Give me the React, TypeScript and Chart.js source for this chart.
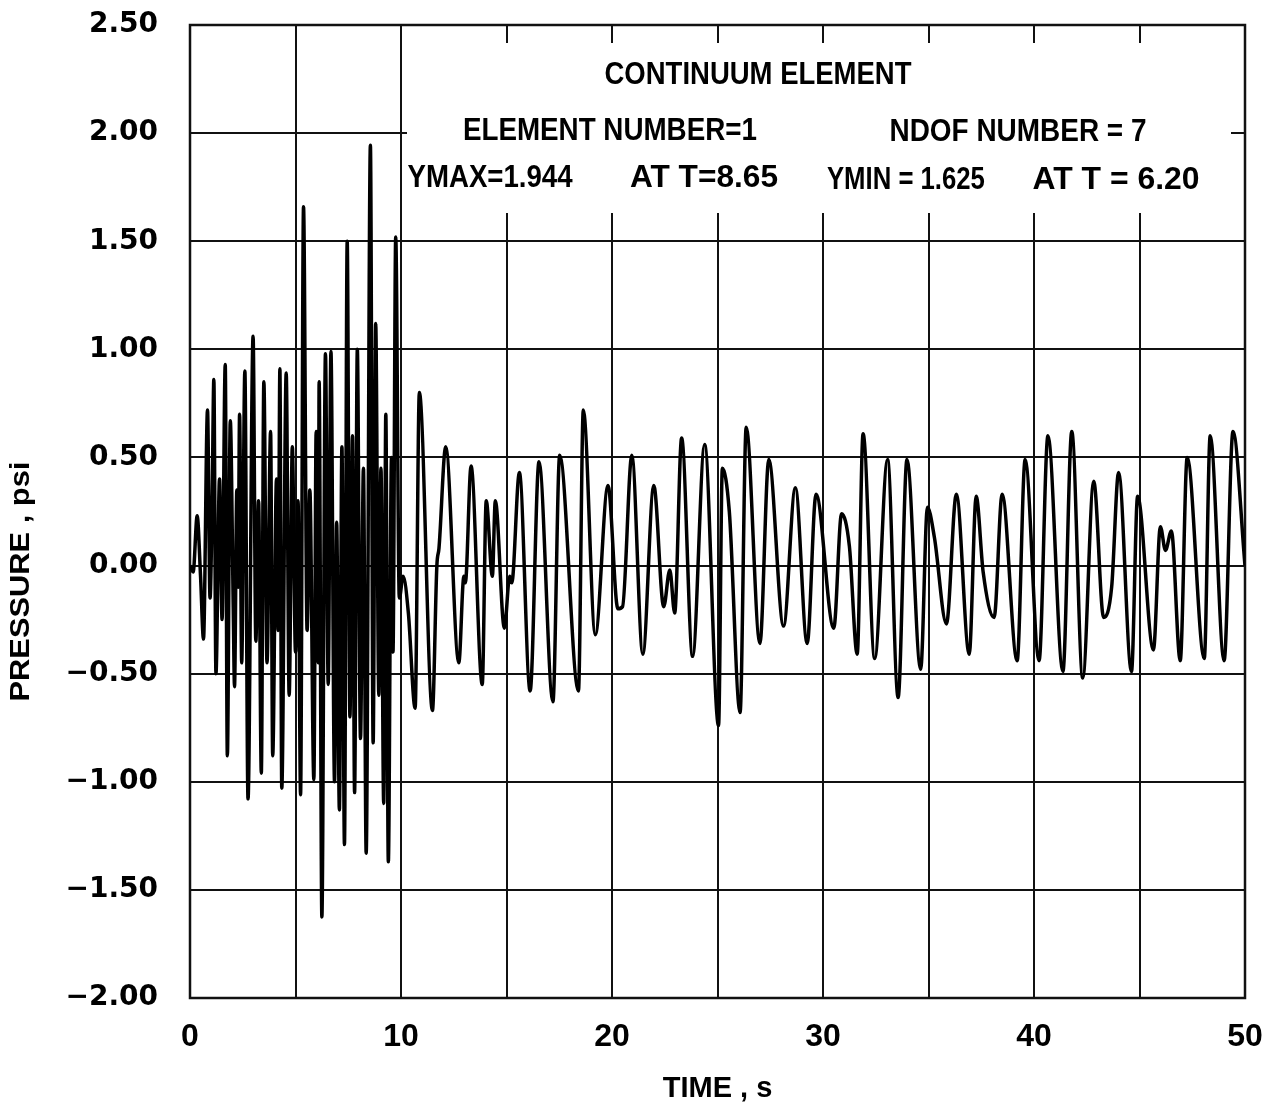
import React, { useEffect, useRef } from 'react';
import { Chart, registerables } from 'chart.js';

Chart.register(...registerables);

// ---- data (time in s, pressure in psi) ----
const timeS: number[] = [
  0.00, 0.15, 0.34, 0.50, 0.64, 0.83, 0.95, 1.05, 1.13, 1.23,
  1.40, 1.52, 1.67, 1.77, 1.91, 2.05, 2.11, 2.22, 2.28, 2.35,
  2.45, 2.60, 2.75, 2.99, 3.12, 3.25, 3.38, 3.50, 3.65, 3.82,
  3.92, 4.10, 4.18, 4.26, 4.35, 4.56, 4.70, 4.85, 5.00, 5.12,
  5.24, 5.38, 5.55, 5.68, 5.87, 5.98, 6.08, 6.12, 6.25, 6.42,
  6.55, 6.68, 6.85, 6.95, 7.08, 7.20, 7.32, 7.45, 7.58, 7.70,
  7.80, 7.93, 8.08, 8.22, 8.35, 8.55, 8.68, 8.80, 8.95, 9.05,
  9.18, 9.28, 9.40, 9.55, 9.62, 9.75, 9.92, 10.10, 10.35, 10.67,
  10.87, 11.49, 11.70, 11.80, 12.12, 12.74, 12.98, 13.05, 13.32, 13.85,
  14.04, 14.33, 14.47, 14.90, 15.15, 15.25, 15.61, 16.12, 16.54, 17.20,
  17.52, 18.41, 18.64, 19.21, 19.81, 20.28, 20.50, 20.94, 21.46, 21.98,
  22.45, 22.74, 22.97, 23.30, 23.82, 24.39, 25.05, 25.23, 25.56, 26.07,
  26.36, 27.01, 27.43, 28.13, 28.69, 29.25, 29.67, 30.51, 30.88, 31.25,
  31.62, 31.90, 32.45, 33.06, 33.56, 33.98, 34.63, 34.95, 35.28, 35.85,
  36.32, 36.93, 37.26, 37.59, 38.11, 38.49, 39.20, 39.58, 40.24, 40.66,
  41.37, 41.79, 42.31, 42.83, 43.30, 43.68, 44.01, 44.62, 44.91, 45.66,
  45.99, 46.23, 46.51, 46.93, 47.26, 48.07, 48.35, 49.01, 49.43, 50.00,
];

const pressurePsi: number[] = [
  0.00, -0.03, 0.23, -0.05, -0.34, 0.72, -0.15, 0.30, 0.86, -0.50,
  0.40, -0.25, 0.93, -0.88, 0.67, -0.20, -0.56, 0.35, -0.10, 0.70,
  -0.45, 0.90, -1.08, 1.06, -0.35, 0.30, -0.96, 0.85, -0.45, 0.62,
  -0.88, 0.40, -0.30, 0.91, -1.03, 0.89, -0.60, 0.55, -0.40, 0.30,
  -1.06, 1.66, -0.30, 0.35, -0.99, 0.62, -0.45, 0.85, -1.625, 0.98,
  -0.55, 0.99, -1.00, 0.20, -1.13, 0.55, -1.29, 1.50, -0.70, 0.60,
  -1.05, 1.00, -0.80, 0.45, -1.33, 1.944, -0.82, 1.12, -0.60, 0.45,
  -1.10, 0.70, -1.37, 0.50, -0.40, 1.52, -0.15, -0.05, -0.22, -0.66,
  0.80, -0.67, 0.00, 0.08, 0.55, -0.45, -0.05, -0.08, 0.46, -0.55,
  0.30, -0.05, 0.30, -0.29, -0.05, -0.08, 0.43, -0.58, 0.48, -0.63,
  0.51, -0.58, 0.72, -0.32, 0.37, -0.20, -0.19, 0.51, -0.41, 0.37,
  -0.19, -0.02, -0.22, 0.59, -0.42, 0.56, -0.74, 0.45, 0.25, -0.68,
  0.64, -0.36, 0.49, -0.28, 0.36, -0.36, 0.33, -0.29, 0.24, 0.09,
  -0.41, 0.61, -0.43, 0.49, -0.61, 0.49, -0.48, 0.27, 0.13, -0.27,
  0.33, -0.41, 0.32, -0.03, -0.24, 0.33, -0.44, 0.49, -0.44, 0.60,
  -0.49, 0.62, -0.52, 0.39, -0.24, -0.10, 0.43, -0.49, 0.32, -0.39,
  0.18, 0.07, 0.16, -0.44, 0.50, -0.43, 0.60, -0.44, 0.62, 0.00,
];

const xGridValues: number[] = [5, 10, 15, 20, 25, 30, 35, 40, 45];
const yGridValues: number[] = [-1.5, -1.0, -0.5, 0.0, 0.5, 1.0, 1.5, 2.0];
const xLabelStep = 10;

const headerTitle = 'CONTINUUM ELEMENT';
const headerLines: string[] = [
  'ELEMENT NUMBER=1',
  'NDOF NUMBER = 7',
  'YMAX=1.944',
  'AT T=8.65',
  'YMIN = 1.625',
  'AT T = 6.20',
];
const yAxisTitle = 'PRESSURE , psi';
const xAxisTitle = 'TIME , s';

// ---- layout / style (kept separate from data) ----
const NARROW = "'Liberation Sans Narrow', 'Liberation Sans', Arial, sans-serif";
const WIDE = "'DejaVu Sans', 'Liberation Sans', sans-serif";
// header text anchors in data coordinates: [time centre, baseline value], plus target width in px
const titleAnchor: [number, number] = [26.92, 2.227];
const titleWidthPx = 307;
const headerAnchors: [number, number][] = [
  [19.9, 1.969],
  [39.24, 1.964],
  [14.22, 1.751],
  [24.36, 1.751],
  [33.93, 1.742],
  [43.89, 1.742],
];
const headerWidthsPx: number[] = [294, 257, 165, 148, 158, 167];
const yTitleLengthPx = 240;
const OPEN_FROM_T = 10; // header box starts right of this time
const OPEN_BELOW_V = 1.63; // header box bottom

function fitText(ctx: CanvasRenderingContext2D, text: string, cx: number, by: number, width: number) {
  const w = ctx.measureText(text).width || 1;
  ctx.save();
  ctx.translate(cx, by);
  ctx.scale(width / w, 1);
  ctx.fillText(text, 0, 0);
  ctx.restore();
}

const framePlugin = {
  id: 'frameGrid',
  beforeDatasetsDraw(chart: any) {
    const { ctx, chartArea: a, scales } = chart;
    const x = scales.x;
    const y = scales.y;
    ctx.save();
    ctx.strokeStyle = '#111';
    ctx.lineWidth = 2;
    ctx.lineCap = 'butt';
    const boxLeft = x.getPixelForValue(OPEN_FROM_T) + 6;
    const boxBottom = y.getPixelForValue(OPEN_BELOW_V);
    for (const v of yGridValues) {
      const py = Math.round(y.getPixelForValue(v));
      ctx.beginPath();
      if (py < boxBottom) {
        ctx.moveTo(a.left, py);
        ctx.lineTo(boxLeft, py);
        ctx.moveTo(a.right - 14, py);
        ctx.lineTo(a.right, py);
      } else {
        ctx.moveTo(a.left, py);
        ctx.lineTo(a.right, py);
      }
      ctx.stroke();
    }
    for (const t of xGridValues) {
      const px = Math.round(x.getPixelForValue(t));
      ctx.beginPath();
      if (t <= OPEN_FROM_T) {
        ctx.moveTo(px, a.top);
        ctx.lineTo(px, a.bottom);
      } else {
        ctx.moveTo(px, a.top);
        ctx.lineTo(px, a.top + 18);
        ctx.moveTo(px, boxBottom);
        ctx.lineTo(px, a.bottom);
      }
      ctx.stroke();
    }
    ctx.lineWidth = 2.5;
    ctx.strokeRect(a.left, a.top, a.right - a.left, a.bottom - a.top);
    ctx.restore();
  },
  afterDatasetsDraw(chart: any) {
    const { ctx, scales } = chart;
    const x = scales.x;
    const y = scales.y;
    ctx.save();
    ctx.fillStyle = '#000';
    ctx.textAlign = 'center';
    ctx.textBaseline = 'alphabetic';
    ctx.font = `bold 31px ${NARROW}`;
    fitText(ctx, headerTitle, x.getPixelForValue(titleAnchor[0]), y.getPixelForValue(titleAnchor[1]), titleWidthPx);
    headerLines.forEach((txt, i) => {
      const [t, v] = headerAnchors[i];
      ctx.font = `bold ${i >= 2 ? 32 : 31}px ${NARROW}`;
      fitText(ctx, txt, x.getPixelForValue(t), y.getPixelForValue(v), headerWidthsPx[i]);
    });
    ctx.font = `bold 27px ${NARROW}`;
    ctx.translate(22, y.getPixelForValue(0.0) + 16);
    ctx.rotate(-Math.PI / 2);
    ctx.textBaseline = 'middle';
    fitText(ctx, yAxisTitle, 0, 0, yTitleLengthPx);
    ctx.restore();
  },
};

export default function App() {
  const ref = useRef<HTMLCanvasElement>(null);
  useEffect(() => {
    document.body.style.margin = '0';
    const canvas = ref.current;
    if (!canvas) return;
    const points = timeS.map((t, i) => ({ x: t, y: pressurePsi[i] }));
    const chart = new Chart(canvas, {
      type: 'line',
      data: {
        datasets: [
          {
            label: 'Pressure',
            data: points,
            borderColor: '#000',
            borderWidth: 3.5,
            pointRadius: 0,
            fill: false,
            cubicInterpolationMode: 'monotone',
          },
        ],
      },
      options: {
        animation: false,
        responsive: false,
        maintainAspectRatio: false,
        devicePixelRatio: 1,
        parsing: false as any,
        layout: { padding: { top: 25, right: 19, left: 0, bottom: 0 } },
        plugins: {
          legend: { display: false },
          tooltip: { enabled: false },
        },
        scales: {
          x: {
            type: 'linear',
            min: 0,
            max: 50,
            grid: { display: false, drawTicks: false },
            border: { display: false },
            afterFit: (s: any) => {
              s.height = 112;
              s.paddingLeft = 0;
              s.paddingRight = 0;
            },
            ticks: {
              stepSize: 5,
              autoSkip: false,
              maxRotation: 0,
              padding: 20,
              color: '#000',
              font: { family: NARROW, size: 32, weight: 'bold' },
              callback: (v: any) => (Number(v) % xLabelStep === 0 ? String(v) : ''),
            },
            title: {
              display: true,
              text: xAxisTitle,
              color: '#000',
              font: { family: NARROW, size: 29, weight: 'bold' },
              padding: { top: 0, bottom: 4 },
            },
          },
          y: {
            type: 'linear',
            min: -2,
            max: 2.5,
            grid: { display: false, drawTicks: false },
            border: { display: false },
            afterFit: (s: any) => {
              s.width = 190;
              s.paddingTop = 0;
              s.paddingBottom = 0;
            },
            ticks: {
              stepSize: 0.5,
              autoSkip: false,
              padding: 32,
              color: '#000',
              font: { family: WIDE, size: 28, weight: 'bold' },
              callback: (v: any) => {
                const n = Number(v);
                const s = Math.abs(n).toFixed(2);
                return n < 0 ? '\u2212' + s : s;
              },
            },
          },
        },
      },
      plugins: [framePlugin],
    });
    return () => chart.destroy();
  }, []);
  return (
    <div style={{ width: 1264, height: 1110, background: '#fff' }}>
      <canvas ref={ref} width={1264} height={1110} style={{ display: 'block' }} />
    </div>
  );
}
